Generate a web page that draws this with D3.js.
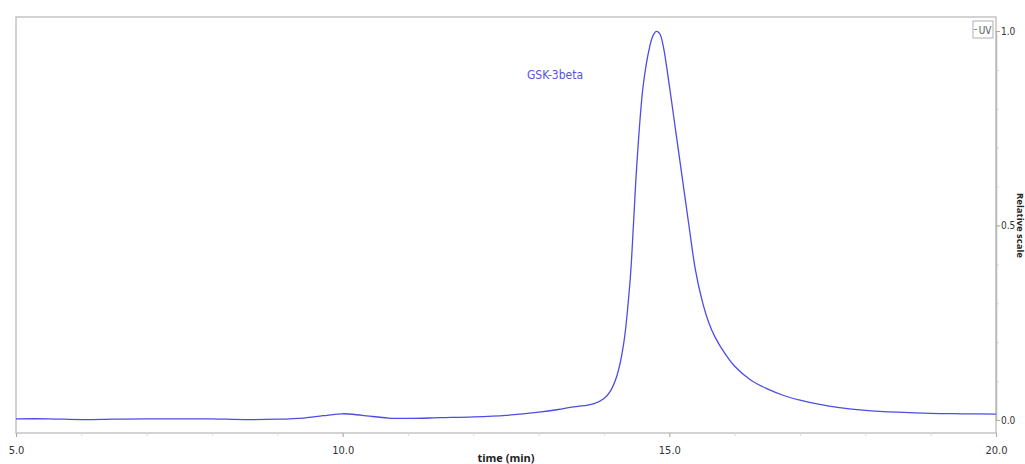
<!DOCTYPE html>
<html>
<head>
<meta charset="utf-8">
<script src="https://cdn.jsdelivr.net/npm/d3@7"></script>
<style>
  body { margin: 0; background: #fff; }
  svg { display: block; font-family: "Open Sans", "Noto Sans", sans-serif; }
</style>
</head>
<body>
<div class="chart"></div>
<script>
// UV trace (time in min, relative signal)
let times = [5.0, 5.5, 6.0, 6.5, 7.0, 7.5, 8.0, 8.5, 9.0, 9.4, 9.7, 10.0, 10.3, 10.7,
  11.0, 11.5, 12.0, 12.5, 13.0, 13.3, 13.5, 13.7, 13.85, 14.0, 14.1, 14.2, 14.3, 14.4,
  14.45, 14.5, 14.6, 14.7, 14.75, 14.8, 14.85, 14.9, 15.0, 15.1, 15.2, 15.3, 15.4, 15.5, 15.6, 15.7,
  15.85, 16.0, 16.25, 16.5, 16.75, 17.0, 17.3, 17.6, 18.0, 18.5, 19.0, 19.5, 20.0];
let signal = [0.003, 0.003, 0.001, 0.002, 0.003, 0.003, 0.003, 0.001, 0.002, 0.005, 0.011, 0.016, 0.012, 0.005,
  0.004, 0.006, 0.008, 0.012, 0.020, 0.027, 0.033, 0.037, 0.042, 0.055, 0.075, 0.115, 0.195, 0.36,
  0.50, 0.65, 0.86, 0.96, 0.988, 0.999, 0.994, 0.967, 0.86, 0.74, 0.62, 0.50, 0.385, 0.308, 0.252, 0.213,
  0.171, 0.138, 0.102, 0.080, 0.063, 0.051, 0.040, 0.032, 0.025, 0.02, 0.017, 0.016, 0.015];

let xTicks = [5, 10, 15, 20];
let yTicks = [0, 0.5, 1.0];
let seriesName = 'GSK-3beta';
let legendName = 'UV';

let margin = {top: 17, right: 29, bottom: 31, left: 16};
let width = 1025 - margin.left - margin.right;
let height = 464 - margin.top - margin.bottom;
let lineColor = '#4b4de6';

let svg = d3.select('.chart')
  .append('svg')
    .attr('width', 1025)
    .attr('height', 464)
  .append('g')
  .attr('transform', `translate(${margin.left}, ${margin.top})`);

let xScale = d3.scaleLinear()
  .domain([5, 20])
  .range([0, width]);

let yScale = d3.scaleLinear()
  .domain([0, 1])
  .range([403, 14]);

// frame
svg.append('rect')
  .attr('width', width)
  .attr('height', height)
  .style('fill', 'none')
  .style('stroke', '#c4c4c4')
  .style('stroke-width', 1.5);

// minor ticks
let xMinor = d3.axisBottom(xScale)
  .tickValues(d3.range(5, 20.01, 1))
  .tickSize(3)
  .tickFormat('');
svg.append('g')
  .attr('transform', `translate(0, ${height})`)
  .call(xMinor)
  .call(g => g.select('.domain').remove())
  .call(g => g.selectAll('line').style('stroke', '#dddddd'));

let yMinor = d3.axisRight(yScale)
  .tickValues(d3.range(0, 1.01, 0.1))
  .tickSize(3)
  .tickFormat('');
svg.append('g')
  .attr('transform', `translate(${width}, 0)`)
  .call(yMinor)
  .call(g => g.select('.domain').remove())
  .call(g => g.selectAll('line').style('stroke', '#dddddd'));

// major axes
let xAxis = d3.axisBottom(xScale)
  .tickValues(xTicks)
  .tickFormat(d3.format('.1f'))
  .tickSizeInner(4)
  .tickSizeOuter(0)
  .tickPadding(9);
svg.append('g')
  .attr('transform', `translate(0, ${height})`)
  .call(xAxis)
  .call(g => g.select('.domain').remove())
  .call(g => g.selectAll('line').style('stroke', '#a8a8a8'))
  .call(g => g.selectAll('text').style('font-size', '11px').style('fill', '#333')
    .style('font-family', '"DejaVu Sans Condensed", "Open Sans", sans-serif'));

let yAxis = d3.axisRight(yScale)
  .tickValues(yTicks)
  .tickFormat(d3.format('.1f'))
  .tickSizeInner(4)
  .tickSizeOuter(0)
  .tickPadding(1);
svg.append('g')
  .attr('transform', `translate(${width}, 0)`)
  .call(yAxis)
  .call(g => g.select('.domain').style('stroke', '#b8b8b8').style('stroke-width', 1.5))
  .call(g => g.selectAll('line').style('stroke', '#a8a8a8'))
  .call(g => g.selectAll('text').style('font-size', '10px').style('fill', '#333')
    .style('font-family', '"DejaVu Sans Condensed", "Open Sans", sans-serif'));

// axis titles
svg.append('text')
  .attr('x', width / 2)
  .attr('y', height + 29)
  .attr('text-anchor', 'middle')
  .style('font-size', '11px')
  .style('font-weight', 'bold')
  .style('fill', '#222')
  .text('time (min)');

svg.append('text')
  .attr('transform', `translate(${width + 21}, ${yScale(0.5)}) rotate(90)`)
  .attr('text-anchor', 'middle')
  .style('font-size', '9.5px')
  .style('font-weight', 'bold')
  .style('fill', '#222')
  .text('Relative scale');

// trace
let line = d3.line()
  .x((d, i) => xScale(times[i]))
  .y(d => yScale(d))
  .curve(d3.curveCatmullRom.alpha(0.5));

svg.append('path')
  .datum(signal)
  .attr('d', line)
  .style('fill', 'none')
  .style('stroke', lineColor)
  .style('stroke-width', 1.3);

svg.append('text')
  .attr('x', xScale(12.82))
  .attr('y', 62)
  .style('font-size', '12px')
  .style('fill', '#5555dd')
  .style('font-family', '"DejaVu Sans Condensed", "Open Sans", sans-serif')
  .text(seriesName);

// UV legend box
let leg = svg.append('g')
  .attr('transform', `translate(${width - 23}, 4)`);
leg.append('rect')
  .attr('width', 20)
  .attr('height', 17)
  .style('fill', '#fff')
  .style('stroke', '#b0b0b0');
leg.append('line')
  .attr('x1', 1).attr('x2', 4)
  .attr('y1', 8.5).attr('y2', 8.5)
  .style('stroke', '#8888cc');
leg.append('text')
  .attr('x', 12)
  .attr('y', 12.5)
  .attr('text-anchor', 'middle')
  .style('font-size', '10px')
  .style('fill', '#555')
  .style('font-family', '"DejaVu Sans Condensed", "Open Sans", sans-serif')
  .text(legendName);
</script>
</body>
</html>
